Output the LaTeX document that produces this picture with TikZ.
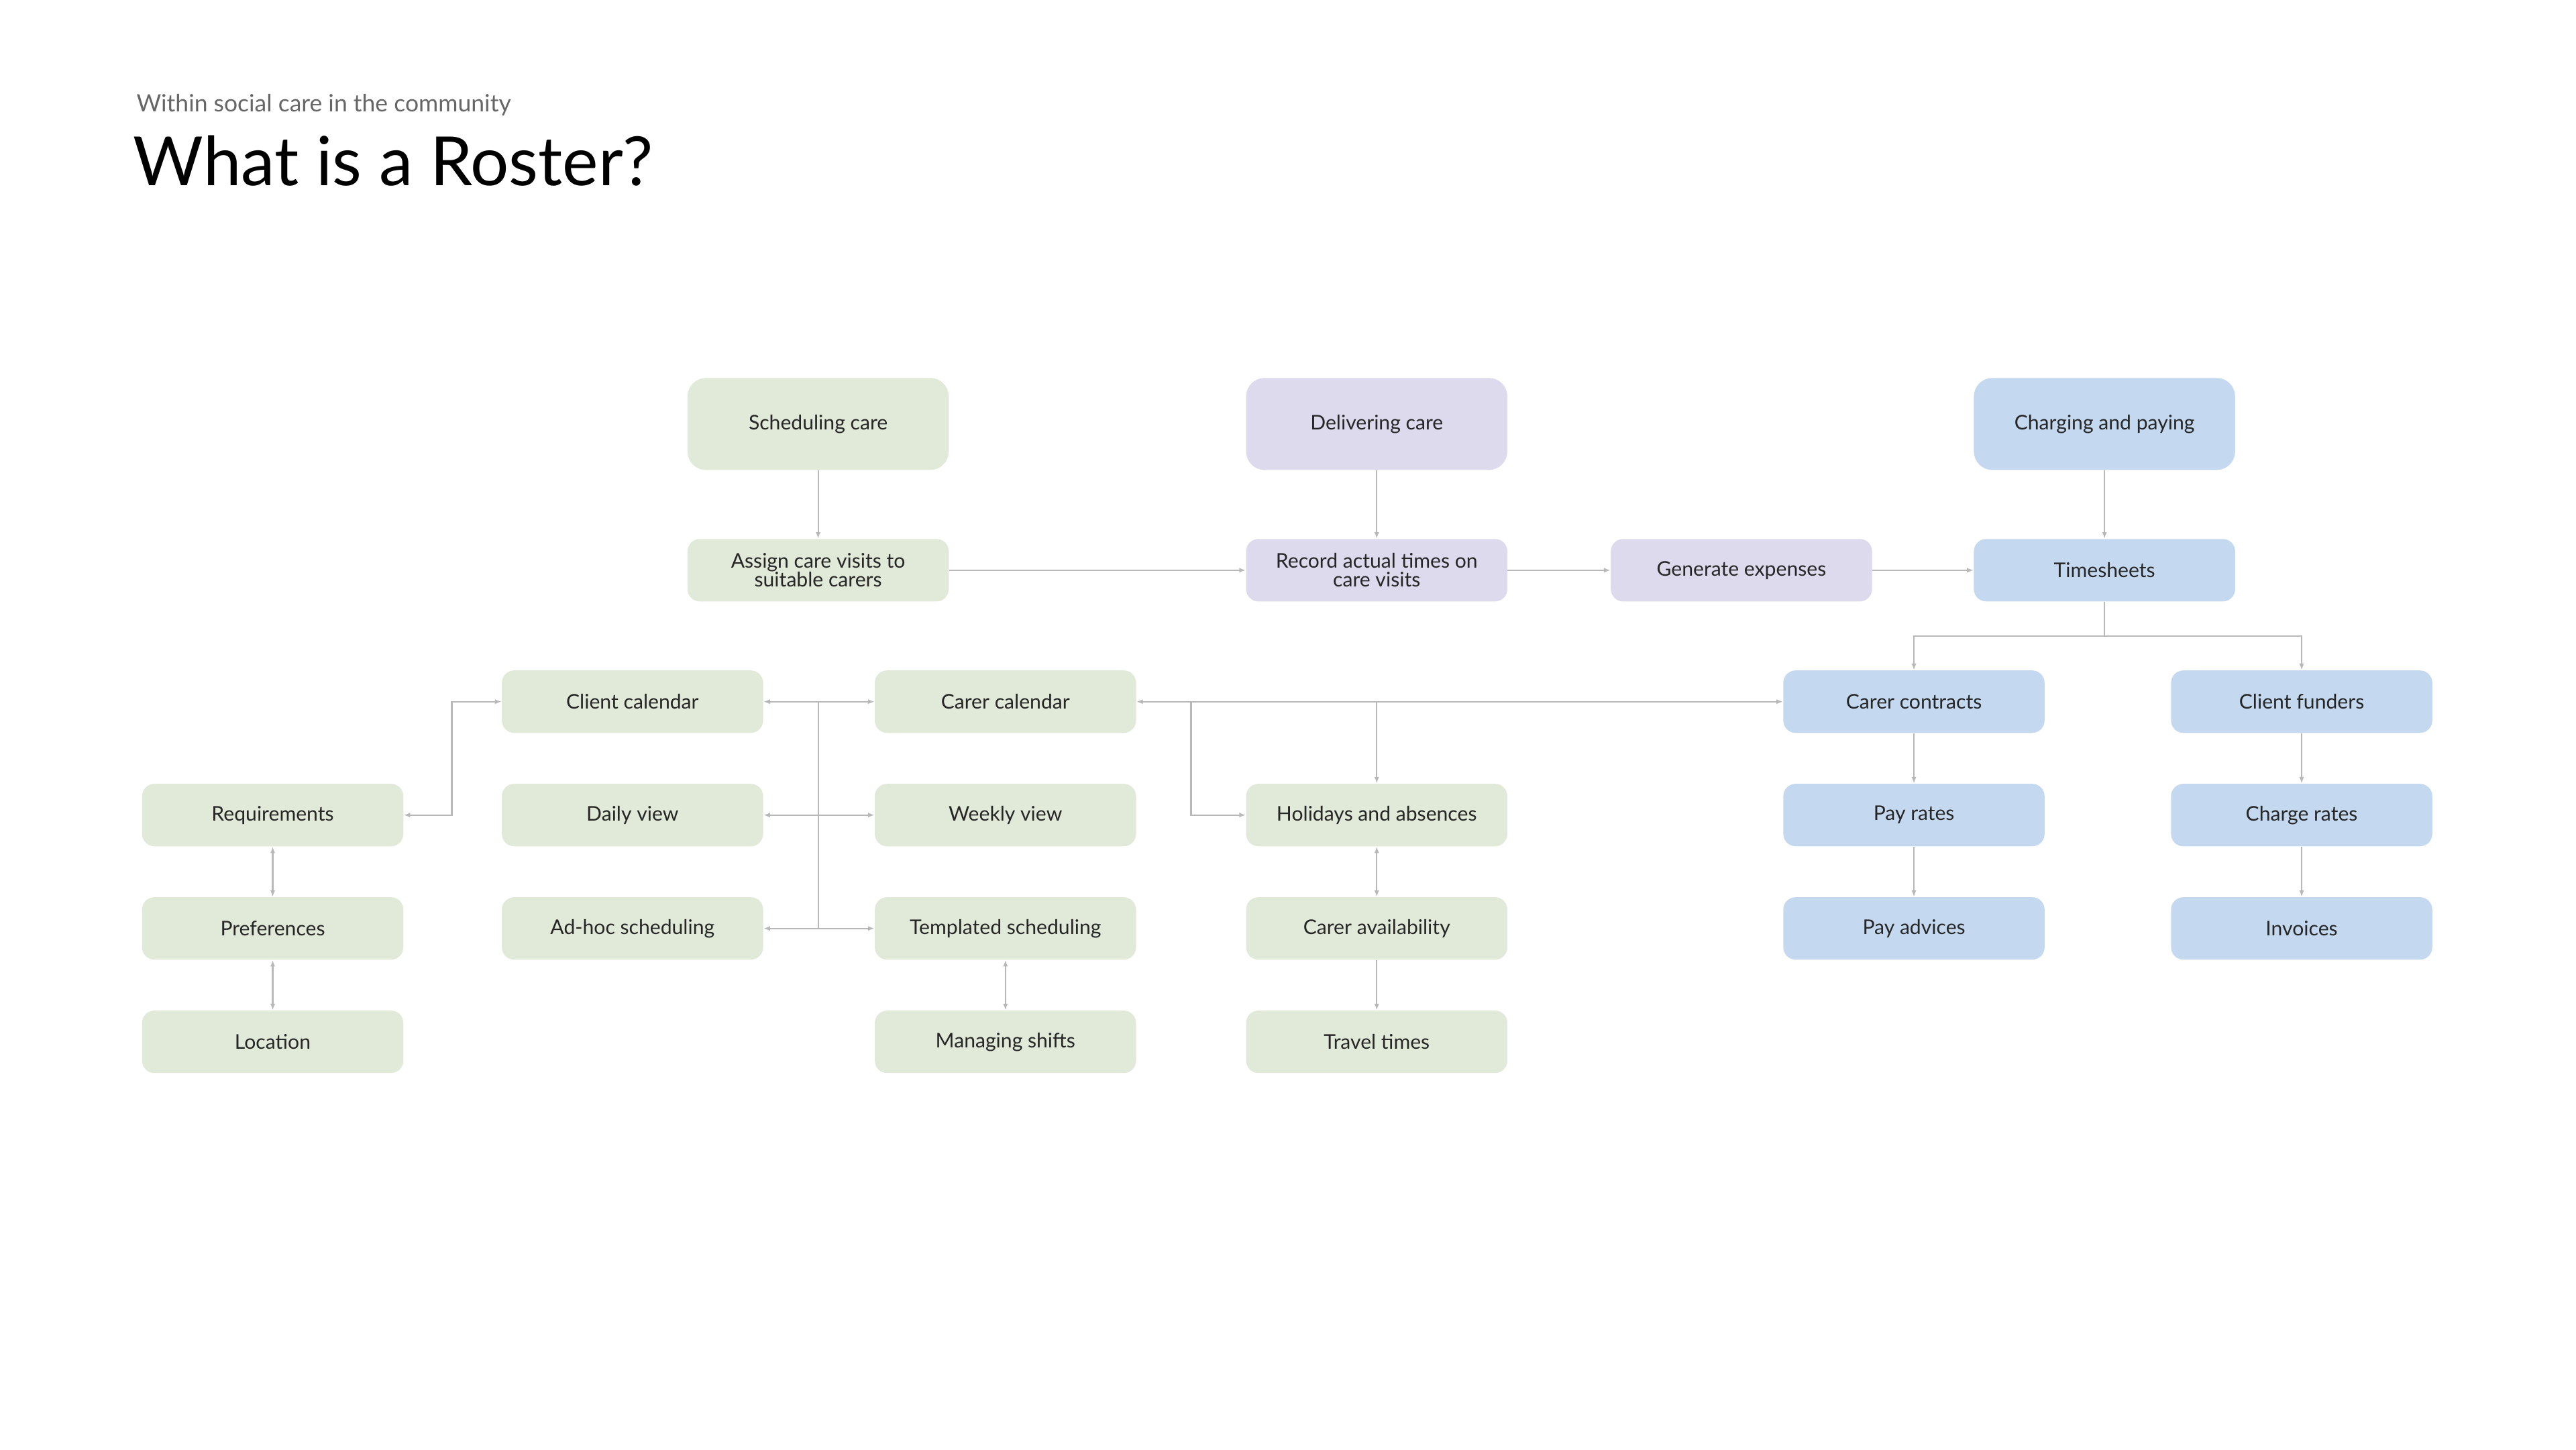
\documentclass[tikz,border=0pt]{standalone}
\usepackage{fontspec}
\setmainfont{Lato}
\usetikzlibrary{arrows.meta}
\definecolor{gr}{HTML}{E1E9D8}
\definecolor{pu}{HTML}{DCDAEC}
\definecolor{bl}{HTML}{C4D9F0}
\definecolor{ln}{HTML}{B8B8B8}
\begin{document}
\begin{tikzpicture}[x=0.04cm,y=-0.04cm,
  box/.style={rounded corners=0.3cm,minimum width=6.36cm,minimum height=1.52cm,align=center,font=\fontsize{14}{16}\selectfont,text=black!85,inner sep=2pt},
  big/.style={box,minimum height=2.24cm,rounded corners=0.45cm},
  G/.style={fill=gr},P/.style={fill=pu},B/.style={fill=bl},
  c/.style={draw=ln,line width=1pt,-{Latex[length=0.16cm,width=0.12cm]}},
  cc/.style={c,{Latex[length=0.16cm,width=0.12cm]}-{Latex[length=0.16cm,width=0.12cm]}},
  l/.style={draw=ln,line width=1pt}]
\useasboundingbox (0,0) rectangle (1568,882);
\node[anchor=base west,font=\fontsize{16.5}{18}\selectfont,text=black!60] (sub) at (80,68) {Within social care in the community};
\node[anchor=base west,font=\fontsize{47}{50}\selectfont] (title) at (78,113) {What is a Roster?};
% top
\node[big,G] (sc) at (498,258) {Scheduling care};
\node[big,P] (dc) at (838,258) {Delivering care};
\node[big,B] (cp) at (1281,258) {Charging and paying};
\node[box,G] (as) at (498,347) {Assign care visits to\\[-3pt]suitable carers};
\node[box,P] (rt) at (838,347) {Record actual times on\\[-3pt]care visits};
\node[box,P] (ge) at (1060,347) {Generate expenses};
\node[box,B] (ts) at (1281,347) {Timesheets};
\node[box,G] (clc) at (385,427) {Client calendar};
\node[box,G] (cac) at (612,427) {Carer calendar};
\node[box,B] (ct) at (1165,427) {Carer contracts};
\node[box,B] (cf) at (1401,427) {Client funders};
\node[box,G] (req) at (166,496) {Requirements};
\node[box,G] (dv) at (385,496) {Daily view};
\node[box,G] (wv) at (612,496) {Weekly view};
\node[box,G] (ha) at (838,496) {Holidays and absences};
\node[box,B] (pr) at (1165,496) {Pay rates};
\node[box,B] (cr) at (1401,496) {Charge rates};
\node[box,G] (pref) at (166,565) {Preferences};
\node[box,G] (ah) at (385,565) {Ad-hoc scheduling};
\node[box,G] (tsch) at (612,565) {Templated scheduling};
\node[box,G] (ca) at (838,565) {Carer availability};
\node[box,B] (pa) at (1165,565) {Pay advices};
\node[box,B] (inv) at (1401,565) {Invoices};
\node[box,G] (loc) at (166,634) {Location};
\node[box,G] (ms) at (612,634) {Managing shifts};
\node[box,G] (tt) at (838,634) {Travel times};
% connectors
\draw[c] (sc) -- (as);
\draw[c] (dc) -- (rt);
\draw[c] (cp) -- (ts);
\draw[c] (as) -- (rt);
\draw[c] (rt) -- (ge);
\draw[c] (ge) -- (ts);
\coordinate (tj) at (1281,387);
\draw[l] (ts) -- (tj);
\draw[c] (tj) -| (ct);
\draw[c] (tj) -| (cf);
\draw[c] (ct) -- (pr);
\draw[c] (pr) -- (pa);
\draw[c] (cf) -- (cr);
\draw[c] (cr) -- (inv);
\draw[cc] (cac) -- (ct);
\coordinate (hj) at (838,427);
\draw[c] (hj) -- (ha);
\coordinate (vj) at (725,427);
\draw[c] (vj) |- (ha);
\draw[cc] (ha) -- (ca);
\draw[c] (ca) -- (tt);
\draw[cc] (tsch) -- (ms);
% trunk
\coordinate (t1) at (498,427);
\coordinate (t2) at (498,496);
\coordinate (t3) at (498,565);
\draw[l] (t1) -- (t3);
\draw[c] (t1) -- (clc); \draw[c] (t1) -- (cac);
\draw[c] (t2) -- (dv); \draw[c] (t2) -- (wv);
\draw[c] (t3) -- (ah); \draw[c] (t3) -- (tsch);
\coordinate (rj) at (275,427);
\draw[cc] (req.east) -| (rj) -- (clc.west);
\draw[cc] (req) -- (pref);
\draw[cc] (pref) -- (loc);
\end{tikzpicture}
\end{document}
